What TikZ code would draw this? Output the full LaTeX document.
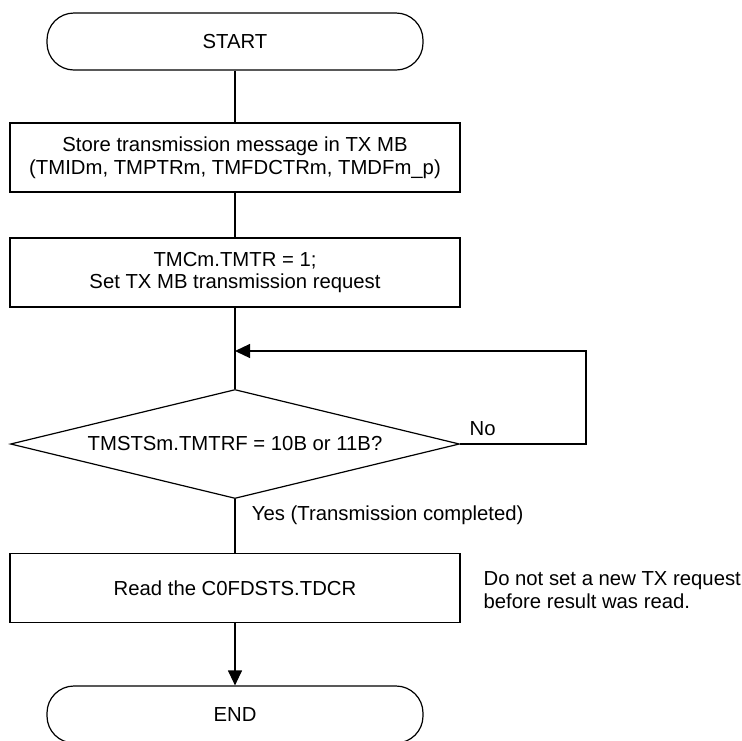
\documentclass[tikz,border=0pt]{standalone}
\usepackage{fontspec}
\setmainfont{Liberation Sans}
\usepackage{tikz}
\usetikzlibrary{shapes.geometric, arrows.meta, positioning, calc}
\tikzset{
  flowtxt/.style  = {font=\fontsize{20.3}{22.5}\selectfont},
  term/.style     = {rectangle, draw, rounded corners=27pt, flowtxt,
                     minimum width=376pt, minimum height=57pt, text centered},
  proc/.style     = {rectangle, draw, flowtxt, align=center,
                     minimum width=450pt, minimum height=69pt},
  decide/.style   = {diamond, draw, flowtxt, aspect=4.1, inner sep=0pt,
                     minimum width=449pt, minimum height=109pt},
  arrow/.style    = {-{Triangle[length=15pt, width=14pt]}},
}

\begin{document}
\begin{tikzpicture}[x=1pt, y=-1pt, line width=1.2pt]

    \clip (0,0) rectangle (742,740);

    %% Flow nodes
    \node[term]   (start) at (235, 41.5) {START};
    \node[proc]   (store) at (235,157.5) {Store transmission message in TX MB\\(TMIDm, TMPTRm, TMFDCTRm, TMDFm\_p)};
    \node[proc]   (settr) at (235,272.5) {TMCm.TMTR = 1;\\Set TX MB transmission request};
    \node[decide] (check) at (235,444)   {TMSTSm.TMTRF = 10B or 11B?};
    \node[proc]   (read)  at (235,588)   {Read the C0FDSTS.TDCR};
    \node[term]   (stop)  at (235,714.5) {END};

    %% Side note
    \node[flowtxt, align=left, anchor=west, inner sep=0pt] (note) at (483,590)
          {Do not set a new TX request\\before result was read.};

    %% Loop points
    \coordinate (loopin)  at (235,351);
    \coordinate (loopout) at (586,351);

    %% Arrows
    \draw (start) -- (store);
    \draw (store) -- (settr);
    \draw (settr) -- (check);
    \draw[arrow] (check.east) -| node[pos=0, anchor=south west, flowtxt, inner sep=4pt, xshift=5pt, yshift=4pt]{No}
                 (loopout) -- (loopin);
    \draw (check) -- node[pos=0.3, right, flowtxt, xshift=13pt]{Yes (Transmission completed)} (read);
    \draw[arrow] (read) -- (stop);

  \end{tikzpicture}
\end{document}
